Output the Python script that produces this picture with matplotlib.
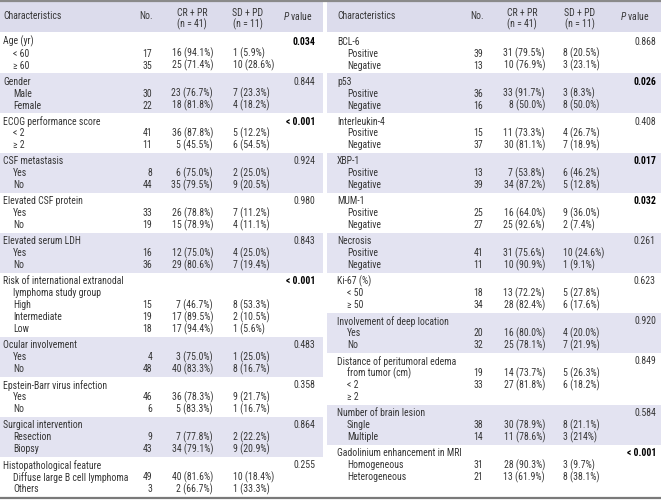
import matplotlib.pyplot as plt
from matplotlib import font_manager
from matplotlib.patches import Rectangle

# pick a narrow sans face, the reference uses a condensed grotesque
available = {f.name for f in font_manager.fontManager.ttflist}
FAMILY = 'DejaVu Sans'
for fam in ['Roboto Condensed', 'Liberation Sans Narrow', 'Archivo Narrow',
            'IBM Plex Sans Condensed', 'PT Sans Narrow', 'DejaVu Sans Condensed']:
    if fam in available:
        FAMILY = fam
        break
plt.rcParams['font.family'] = [FAMILY, 'DejaVu Sans']
plt.rcParams['mathtext.fontset'] = 'custom'
plt.rcParams['mathtext.rm'] = FAMILY
plt.rcParams['mathtext.it'] = FAMILY + ':italic'

# ---- left half of the table ----
left_titles = ["Age (yr)", "Gender", "ECOG performance score", "CSF metastasis",
               "Elevated CSF protein", "Elevated serum LDH",
               "Risk of international extranodal", "Ocular involvement",
               "Epstein-Barr virus infection", "Surgical intervention",
               "Histopathological feature"]
left_p = ["0.034", "0.844", "< 0.001", "0.924", "0.980", "0.843", "< 0.001",
          "0.483", "0.358", "0.864", "0.255"]
left_sig = [True, False, True, False, False, False, True, False, False, False, False]
left_items = [["< 60", "≥ 60"], ["Male", "Female"], ["< 2", "≥ 2"], ["Yes", "No"],
              ["Yes", "No"], ["Yes", "No"],
              ["lymphoma study group", "High", "Intermediate", "Low"],
              ["Yes", "No"], ["Yes", "No"], ["Resection", "Biopsy"],
              ["Diffuse large B cell lymphoma", "Others"]]
left_no = [["17", "35"], ["30", "22"], ["41", "11"], ["8", "44"], ["33", "19"],
           ["16", "36"], ["", "15", "19", "18"], ["4", "48"], ["46", "6"],
           ["9", "43"], ["49", "3"]]
left_cr = [["16 (94.1%)", "25 (71.4%)"], ["23 (76.7%)", "18 (81.8%)"],
           ["36 (87.8%)", "5 (45.5%)"], ["6 (75.0%)", "35 (79.5%)"],
           ["26 (78.8%)", "15 (78.9%)"], ["12 (75.0%)", "29 (80.6%)"],
           ["", "7 (46.7%)", "17 (89.5%)", "17 (94.4%)"],
           ["3 (75.0%)", "40 (83.3%)"], ["36 (78.3%)", "5 (83.3%)"],
           ["7 (77.8%)", "34 (79.1%)"], ["40 (81.6%)", "2 (66.7%)"]]
left_sd = [["1 (5.9%)", "10 (28.6%)"], ["7 (23.3%)", "4 (18.2%)"],
           ["5 (12.2%)", "6 (54.5%)"], ["2 (25.0%)", "9 (20.5%)"],
           ["7 (11.2%)", "4 (11.1%)"], ["4 (25.0%)", "7 (19.4%)"],
           ["", "8 (53.3%)", "2 (10.5%)", "1 (5.6%)"],
           ["1 (25.0%)", "8 (16.7%)"], ["9 (21.7%)", "1 (16.7%)"],
           ["2 (22.2%)", "9 (20.9%)"], ["10 (18.4%)", "1 (33.3%)"]]

# ---- right half of the table ----
right_titles = ["BCL-6", "p53", "Interleukin-4", "XBP-1", "MUM-1", "Necrosis",
                "Ki-67 (%)", "Involvement of deep location",
                "Distance of peritumoral edema", "Number of brain lesion",
                "Gadolinium enhancement in MRI"]
right_p = ["0.868", "0.026", "0.408", "0.017", "0.032", "0.261", "0.623",
           "0.920", "0.849", "0.584", "< 0.001"]
right_sig = [False, True, False, True, True, False, False, False, False, False, True]
right_items = [["Positive", "Negative"], ["Positive", "Negative"],
               ["Positive", "Negative"], ["Positive", "Negative"],
               ["Positive", "Negative"], ["Positive", "Negative"],
               ["< 50", "≥ 50"], ["Yes", "No"],
               ["from tumor (cm)", "< 2", "≥ 2"], ["Single", "Multiple"],
               ["Homogeneous", "Heterogeneous"]]
right_no = [["39", "13"], ["36", "16"], ["15", "37"], ["13", "39"], ["25", "27"],
            ["41", "11"], ["18", "34"], ["20", "32"], ["19", "33", ""],
            ["38", "14"], ["31", "21"]]
right_cr = [["31 (79.5%)", "10 (76.9%)"], ["33 (91.7%)", "8 (50.0%)"],
            ["11 (73.3%)", "30 (81.1%)"], ["7 (53.8%)", "34 (87.2%)"],
            ["16 (64.0%)", "25 (92.6%)"], ["31 (75.6%)", "10 (90.9%)"],
            ["13 (72.2%)", "28 (82.4%)"], ["16 (80.0%)", "25 (78.1%)"],
            ["14 (73.7%)", "27 (81.8%)", ""], ["30 (78.9%)", "11 (78.6%)"],
            ["28 (90.3%)", "13 (61.9%)"]]
right_sd = [["8 (20.5%)", "3 (23.1%)"], ["3 (8.3%)", "8 (50.0%)"],
            ["4 (26.7%)", "7 (18.9%)"], ["6 (46.2%)", "5 (12.8%)"],
            ["9 (36.0%)", "2 (7.4%)"], ["10 (24.6%)", "1 (9.1%)"],
            ["5 (27.8%)", "6 (17.6%)"], ["4 (20.0%)", "7 (21.9%)"],
            ["5 (26.3%)", "6 (18.2%)", ""], ["8 (21.1%)", "3 (214%)"],
            ["3 (9.7%)", "8 (38.1%)"]]

BAND = '#e3e3f1'
HEAD = '#dcdcec'
TXT = '#363636'
ROW = 12
PAD = 4
TOP = 33

fig = plt.figure(figsize=(6.61, 5.01), dpi=100)
ax = fig.add_axes([0, 0, 1, 1])
ax.set_xlim(0, 661)
ax.set_ylim(501, 0)
ax.axis('off')

# size the font so "Characteristics" is about as wide as in the reference (~58 px)
probe = ax.text(0, 0, "Characteristics", fontsize=10)
w = probe.get_window_extent(fig.canvas.get_renderer()).width
probe.remove()
FS = min(8.0, max(6.4, 10 * 58.0 / w))


def draw_half(x0, x1, c, titles, pvals, sig, items, nos, crs, sds):
    # header
    ax.add_patch(Rectangle((x0, 2), x1 - x0, 30, color=HEAD, lw=0))
    ax.text(c['lab'], 16, "Characteristics", fontsize=FS, color=TXT, va='center')
    ax.text(c['no'] + 1, 16, "No.", fontsize=FS, color=TXT, va='center', ha='right')
    ax.text(c['hcr'], 12.5, "CR + PR", fontsize=FS, color=TXT, va='center', ha='center')
    ax.text(c['hcr'], 24.5, "(n = 41)", fontsize=FS, color=TXT, va='center', ha='center')
    ax.text(c['hsd'], 12.5, "SD + PD", fontsize=FS, color=TXT, va='center', ha='center')
    ax.text(c['hsd'], 24.5, "(n = 11)", fontsize=FS, color=TXT, va='center', ha='center')
    ax.text(c['hp'], 16, r"$\it{P}$ value", fontsize=FS, color=TXT, va='center', ha='center')

    y = TOP
    for g, title in enumerate(titles):
        n = len(items[g]) + 1
        h = n * ROW + PAD
        if g % 2 == 1:
            ax.add_patch(Rectangle((x0, y), x1 - x0, h, color=BAND, lw=0))
        ty = y + 8.5
        ax.text(c['lab'], ty, title, fontsize=FS, color=TXT, va='center')
        ax.text(c['p'], ty, pvals[g], fontsize=FS, va='center', ha='right',
                color='black' if sig[g] else TXT,
                fontweight='bold' if sig[g] else 'normal')
        for i, lab in enumerate(items[g]):
            ry = ty + (i + 1) * ROW
            ax.text(c['ind'], ry, lab, fontsize=FS, color=TXT, va='center')
            ax.text(c['no'], ry, nos[g][i], fontsize=FS, color=TXT, va='center', ha='right')
            ax.text(c['cr'], ry, crs[g][i], fontsize=FS, color=TXT, va='center', ha='right')
            ax.text(c['sd'], ry, sds[g][i], fontsize=FS, color=TXT, va='center', ha='left')
        y += h


left_cols = dict(lab=3, ind=13, no=152, cr=213, sd=233, p=315, hcr=192, hsd=248, hp=298)
right_cols = dict(lab=337, ind=347, no=483, cr=545, sd=563, p=656, hcr=522, hsd=580, hp=635)

draw_half(0, 323, left_cols, left_titles, left_p, left_sig, left_items,
          left_no, left_cr, left_sd)
draw_half(327, 661, right_cols, right_titles, right_p, right_sig, right_items,
          right_no, right_cr, right_sd)

ax.plot([0, 661], [1, 1], color='#8a8a8a', lw=1.6, solid_capstyle='butt')
ax.plot([0, 661], [498, 498], color='#7a7a7a', lw=1.6, solid_capstyle='butt')

fig.savefig('out.png', dpi=100)
